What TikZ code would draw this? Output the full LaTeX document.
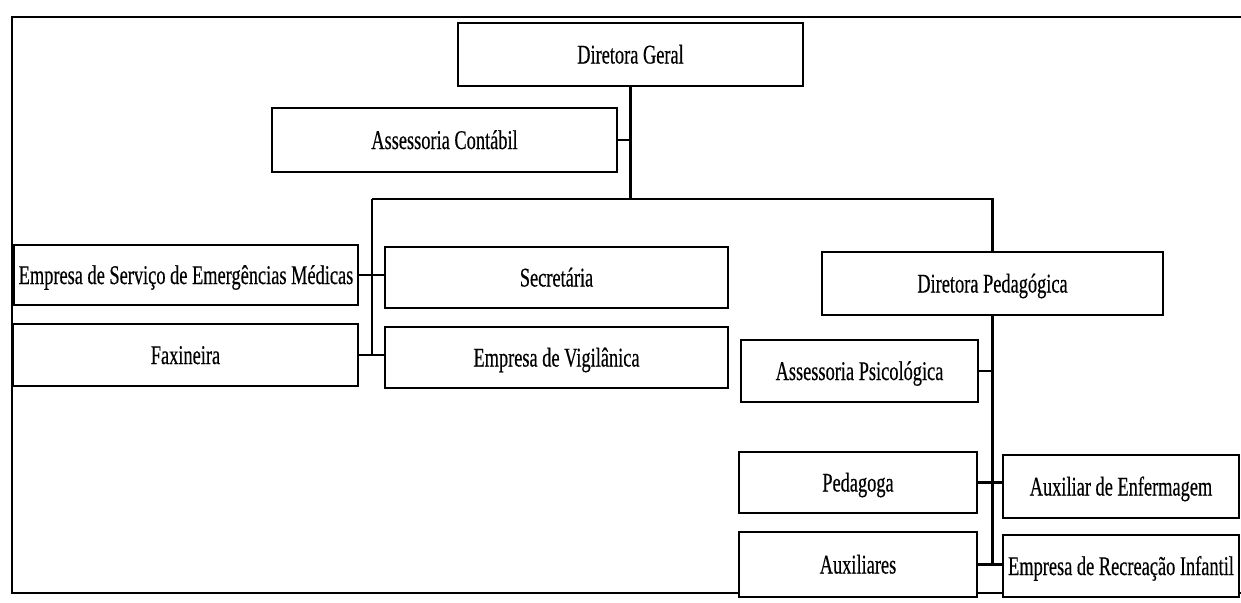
\documentclass[tikz,border=0pt]{standalone}
\usepackage{fontspec}
\newfontfamily\condserif[FakeStretch=0.68,FakeBold=0.4]{Liberation Serif}
\newcommand\orgbox[6]{%
  \node[orgnode, minimum width={(#4-#2)*1pt}, minimum height={(#5-#3)*1pt}]
    (#1) at ({(#2+#4)/2},{(#3+#5)/2}) {#6};}
\begin{document}
\begin{tikzpicture}[x=1pt,y=-1pt,
  orgnode/.style={draw, line width=2.2pt, fill=white, inner sep=0pt,
    text height=18pt, text depth=0pt,
    font=\condserif\fontsize{27}{30}\selectfont},
  link/.style={line width=2.2pt},
  frameline/.style={line width=2pt}]
\useasboundingbox (0,0) rectangle (1241,602);
% outer frame (open on the right)
\draw[frameline] (1241,17) -- (12,17) -- (12,593) -- (1241,593);

\orgbox{DG}{458}{23}{803}{86}{Diretora Geral}
\orgbox{AC}{272}{108}{617}{172}{Assessoria Contábil}
\orgbox{EM}{14}{245}{358}{305}{Empresa de Serviço de Emergências Médicas}
\orgbox{SE}{385}{247}{728}{308}{Secretária}
\orgbox{FX}{13}{324}{358}{386}{Faxineira}
\orgbox{VG}{385}{327}{728}{388}{Empresa de Vigilânica}
\orgbox{DP}{822}{252}{1163}{315}{Diretora Pedagógica}
\orgbox{AP}{741}{340}{978}{402}{Assessoria Psicológica}
\orgbox{PE}{739}{452}{977}{513}{Pedagoga}
\orgbox{AE}{1003}{455}{1239}{518}{Auxiliar de Enfermagem}
\orgbox{AX}{739}{532}{977}{597}{Auxiliares}
\orgbox{RI}{1003}{535}{1239}{597}{Empresa de Recreação Infantil}

\coordinate (busL) at (372,199);
\coordinate (busM) at (DG.south |- busL);
\coordinate (busR) at (DP.north |- busL);

\draw[link] (DG.south) -- (busM);
\draw[link] (AC.east) -- (AC.east -| DG.south);
\draw[link] (busL) -- (busR) -- (DP.north);
\draw[link] (busL) -- (busL |- FX.east);
\draw[link] (EM.east) -- (EM.east -| SE.west);
\draw[link] (FX.east) -- (FX.east -| VG.west);
\draw[link] (DP.south) -- (DP.south |- AX.east);
\draw[link] (AP.east) -- (AP.east -| DP.south);
\draw[link] (PE.east) -- (PE.east -| AE.west);
\draw[link] (AX.east) -- (AX.east -| RI.west);
\end{tikzpicture}
\end{document}
